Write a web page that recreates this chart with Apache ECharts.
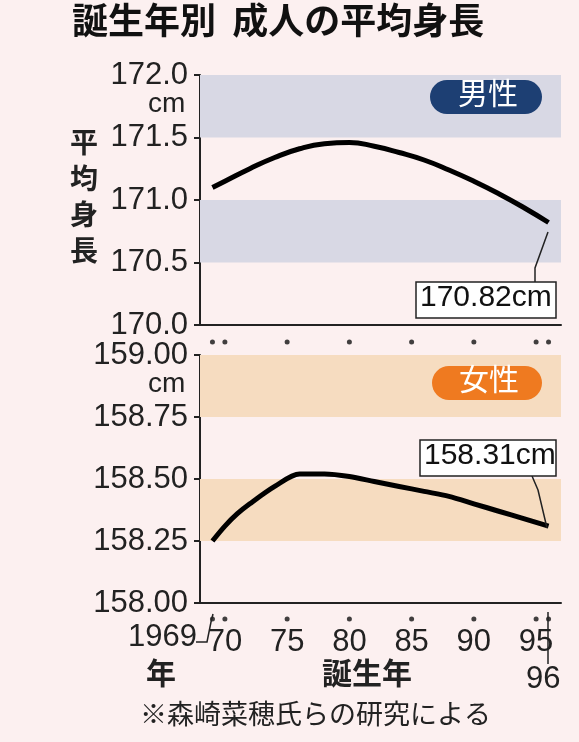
<!DOCTYPE html>
<html><head><meta charset="utf-8">
<script src="https://cdn.jsdelivr.net/npm/echarts@6/dist/echarts.min.js"></script>
<style>body{margin:0;background:#fcf0f0}#c{width:579px;height:742px}</style>
</head><body><div id="c"></div>
<script>
var chart = echarts.init(document.getElementById("c"));

var maleYears = [1969, 1970, 1972, 1974, 1976, 1978, 1980, 1982, 1984, 1986, 1988, 1990, 1992, 1994, 1996];
var maleValues = [171.10, 171.15, 171.25, 171.34, 171.41, 171.45, 171.46, 171.43, 171.38, 171.32, 171.24, 171.15, 171.05, 170.94, 170.82];
var femaleYears = [1969, 1970, 1971, 1972, 1974, 1976, 1978, 1980, 1982, 1984, 1986, 1988, 1990, 1992, 1994, 1996];
var femaleValues = [158.25, 158.31, 158.36, 158.40, 158.47, 158.52, 158.52, 158.51, 158.49, 158.47, 158.45, 158.43, 158.40, 158.37, 158.34, 158.31];
var tickYears = [1969, 1970, 1975, 1980, 1985, 1990, 1995, 1996];
var maleTicks = [170.0, 170.5, 171.0, 171.5, 172.0];
var femaleTicks = [158.00, 158.25, 158.50, 158.75, 159.00];

var font = "'Liberation Sans',sans-serif";
var jp = "'Noto Sans CJK JP',sans-serif";

function pair(xs, ys) { return xs.map(function (x, i) { return [x, ys[i]]; }); }
function dots(y) { return tickYears.map(function (x) { return [x, y]; }); }

function xAxis(idx, showLabels) {
  return {
    type: "value", gridIndex: idx, min: 1968, max: 1997,
    axisLine: { show: true, lineStyle: { color: "#222", width: 2 } },
    axisTick: { show: false }, splitLine: { show: false },
    axisLabel: {
      show: showLabels, customValues: tickYears, margin: 24,
      fontFamily: font, fontSize: 31, color: "#222",
      formatter: function (v) { return (v === 1969 || v === 1996) ? "" : String(v % 100); }
    }
  };
}
function yAxis(idx, ticks, digits) {
  return {
    type: "value", gridIndex: idx, min: ticks[0], max: ticks[ticks.length - 1],
    interval: ticks[1] - ticks[0],
    axisLine: { show: true, lineStyle: { color: "#222", width: 2 } },
    axisTick: { show: true, length: 6, inside: false, lineStyle: { color: "#222", width: 2 } },
    splitLine: { show: false },
    axisLabel: { margin: 12, fontFamily: font, fontSize: 31, color: "#222",
      formatter: function (v) { return v.toFixed(digits); } }
  };
}
function band(color, ranges) {
  return { silent: true, itemStyle: { color: color },
    data: ranges.map(function (r) { return [{ yAxis: r[0] }, { yAxis: r[1] }]; }) };
}

var option = {
  backgroundColor: "#fcf0f0",
  animation: false,
  grid: [
    { left: 200, top: 75, width: 361, height: 250 },
    { left: 200, top: 355, width: 361, height: 248 }
  ],
  xAxis: [xAxis(0, false), xAxis(1, true)],
  yAxis: [yAxis(0, maleTicks, 1), yAxis(1, femaleTicks, 2)],
  series: [
    { type: "line", xAxisIndex: 0, yAxisIndex: 0, data: pair(maleYears, maleValues), smooth: true,
      symbol: "none", lineStyle: { color: "#000", width: 5 },
      markArea: band("#d8d8e4", [[171.5, 172.0], [170.5, 171.0]]) },
    { type: "line", xAxisIndex: 1, yAxisIndex: 1, data: pair(femaleYears, femaleValues), smooth: 0.3,
      symbol: "none", lineStyle: { color: "#000", width: 5 },
      markArea: band("#f6dcc0", [[158.75, 159.0], [158.25, 158.5]]) },
    { type: "scatter", xAxisIndex: 0, yAxisIndex: 0, data: dots(170.0), clip: false,
      symbolSize: 5, symbolOffset: [0, 17], itemStyle: { color: "#111" } },
    { type: "scatter", xAxisIndex: 1, yAxisIndex: 1, data: dots(158.0), clip: false,
      symbolSize: 5, symbolOffset: [0, 16], itemStyle: { color: "#111" } }
  ],
  graphic: [
    { type: "text", left: 72, top: 2, z: 100, style: { text: "誕生年別  成人の平均身長", font: "bold 36px " + jp, fill: "#111" } },
    { type: "text", left: 148, top: 90, z: 100, style: { text: "cm", font: "28px " + font, fill: "#222" } },
    { type: "text", left: 148, top: 370, z: 100, style: { text: "cm", font: "28px " + font, fill: "#222" } },
    { type: "text", left: 70, top: 124, z: 100, style: { text: "平\n均\n身\n長", font: "bold 28px " + jp, lineHeight: 36, fill: "#222" } },
    { type: "rect", z: 100, shape: { x: 430, y: 80, width: 112, height: 34, r: 17 }, style: { fill: "#1d3f73" } },
    { type: "text", left: 458, top: 78, z: 101, style: { text: "男性", font: "30px " + jp, fill: "#fff" } },
    { type: "rect", z: 100, shape: { x: 432, y: 366, width: 110, height: 34, r: 17 }, style: { fill: "#ef7a20" } },
    { type: "text", left: 459, top: 364, z: 101, style: { text: "女性", font: "30px " + jp, fill: "#fff" } },
    { type: "polyline", z: 100, shape: { points: [[535, 282], [535, 268], [548, 232]] }, style: { stroke: "#222", lineWidth: 1.5, fill: null } },
    { type: "rect", z: 100, shape: { x: 416, y: 282, width: 140, height: 36 }, style: { fill: "#fff", stroke: "#222", lineWidth: 1.5 } },
    { type: "text", left: 420, top: 283, z: 101, style: { text: "170.82cm", font: "30px " + font, fill: "#111" } },
    { type: "polyline", z: 100, shape: { points: [[532, 476], [538, 490], [547, 528]] }, style: { stroke: "#222", lineWidth: 1.5, fill: null } },
    { type: "rect", z: 100, shape: { x: 420, y: 440, width: 136, height: 36 }, style: { fill: "#fff", stroke: "#222", lineWidth: 1.5 } },
    { type: "text", left: 424, top: 441, z: 101, style: { text: "158.31cm", font: "30px " + font, fill: "#111" } },
    { type: "text", left: 128, top: 622, z: 100, style: { text: "1969", font: "31px " + font, fill: "#222" } },
    { type: "polyline", z: 100, shape: { points: [[196, 642], [207, 642], [211, 622], [213, 614]] }, style: { stroke: "#222", lineWidth: 1.5, fill: null } },
    { type: "text", left: 146, top: 658, z: 100, style: { text: "年", font: "bold 30px " + jp, fill: "#222" } },
    { type: "polyline", z: 100, shape: { points: [[548, 612], [548, 664]] }, style: { stroke: "#222", lineWidth: 1.5 } },
    { type: "text", left: 526, top: 664, z: 100, style: { text: "96", font: "31px " + font, fill: "#222" } },
    { type: "text", left: 322, top: 658, z: 100, style: { text: "誕生年", font: "bold 30px " + jp, fill: "#222" } },
    { type: "text", left: 140, top: 700, z: 100, style: { text: "※森崎菜穂氏らの研究による", font: "27px " + jp, fill: "#222" } }
  ]
};
chart.setOption(option);
</script></body></html>
